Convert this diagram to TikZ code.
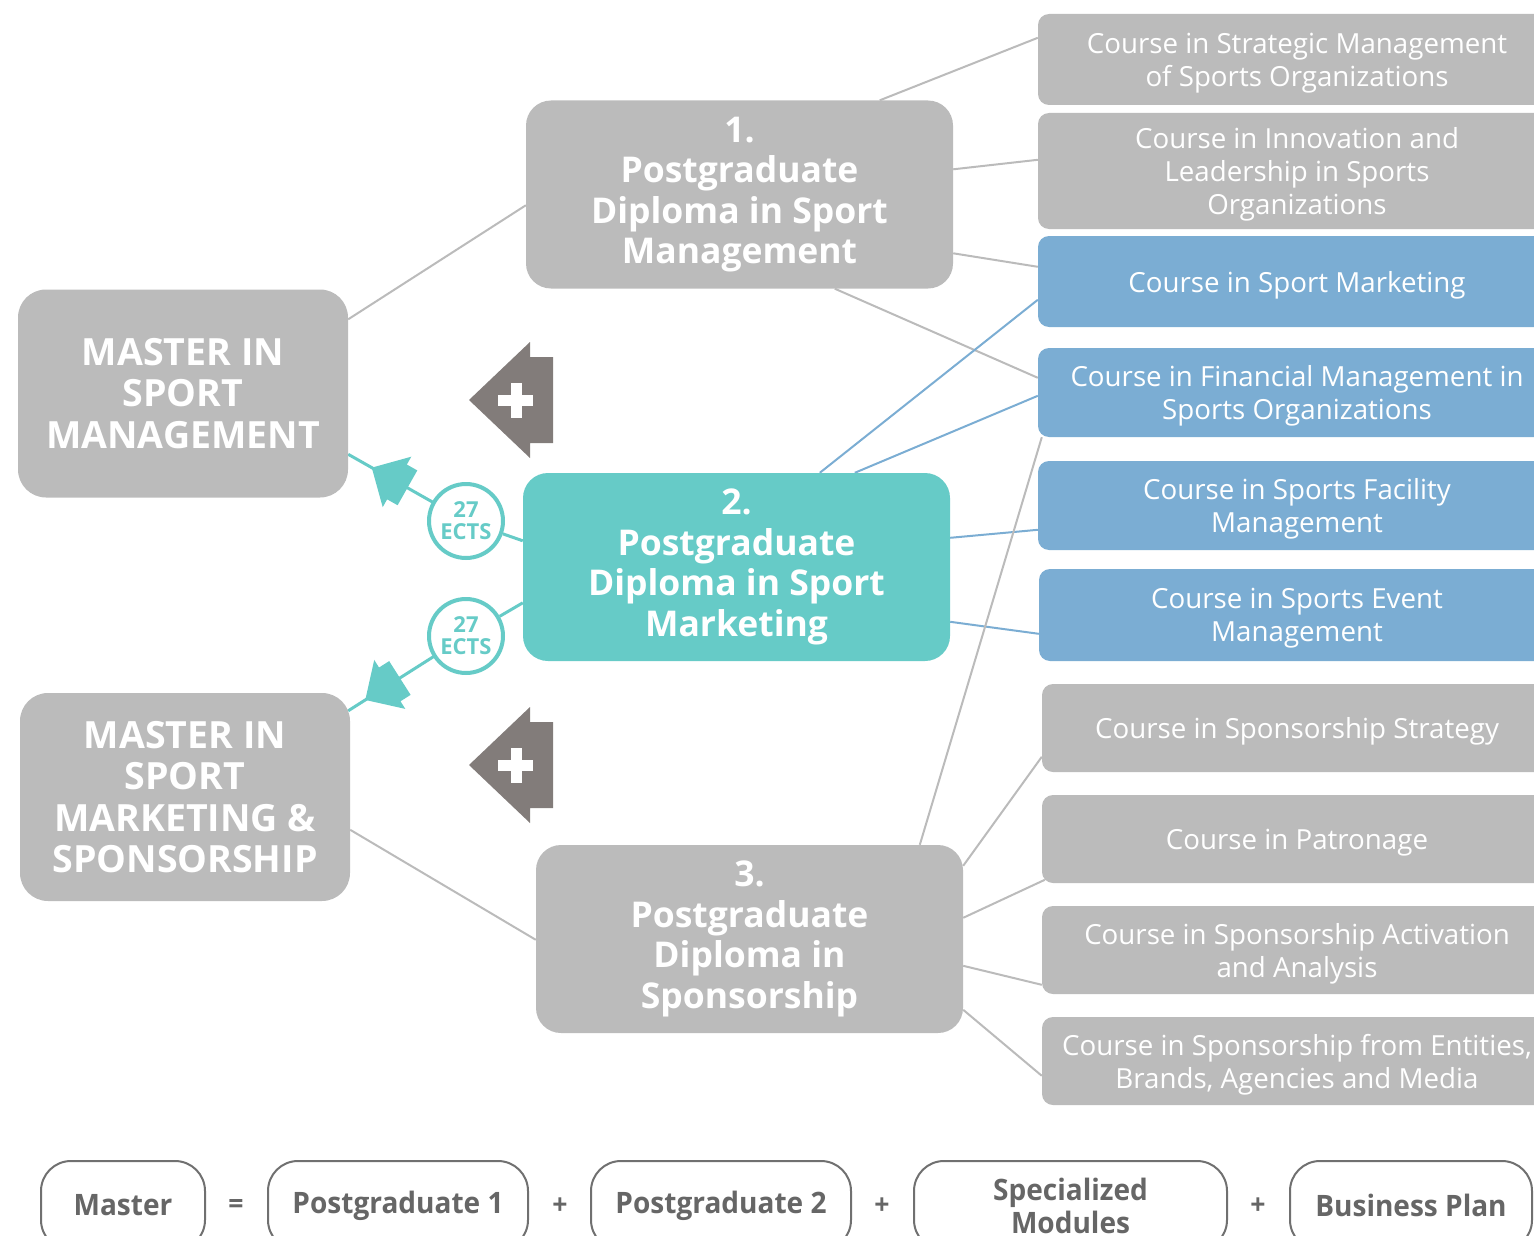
\documentclass[tikz,border=0pt]{standalone}
\usepackage{fontspec}
\setmainfont{Open Sans}
\newfontfamily\condfont[FakeStretch=0.95]{Open Sans}
\usetikzlibrary{calc,backgrounds,decorations.markings}

\definecolor{boxgray}{HTML}{BBBBBB}
\definecolor{courseblue}{HTML}{7BADD3}
\definecolor{pgteal}{HTML}{66CBC7}
\definecolor{plusgray}{HTML}{827C7A}
\definecolor{legendgray}{HTML}{666666}
\definecolor{legendline}{HTML}{707070}

\begin{document}
\begin{tikzpicture}[x=1pt,y=-1pt,
  box/.style={rounded corners=#1, fill=boxgray, text=white, inner sep=0pt, align=center},
  course/.style={box=11pt, minimum width=518pt, text depth=0pt,
    font=\fontsize{27.7}{33}\selectfont},
  bluecourse/.style={course, fill=courseblue},
  diploma/.style={box=25pt, minimum width=427pt, minimum height=188pt,
    font=\bfseries\fontsize{35.5}{40.5}\selectfont},
  master/.style={box=28pt, minimum width=330pt, minimum height=208pt,
    font=\bfseries\fontsize{37.5}{41.5}\selectfont},
  ects/.style={circle, draw=pgteal, line width=4pt, fill=white, minimum size=74pt,
    inner sep=0pt, align=center, text=pgteal, font=\bfseries\fontsize{22}{22}\selectfont},
  link/.style={draw=boxgray, line width=2pt},
  bluelink/.style={draw=courseblue, line width=2pt},
  teallink/.style={draw=pgteal, line width=3pt},
  credit/.style={teallink, postaction={decorate}, decoration={markings,
    mark=at position #1 with {\fill[pgteal] (0,0) -- (-29,29) -- (-29,20) -- (-41,20)
      -- (-41,-20) -- (-29,-20) -- (-29,-29) -- cycle;}}},
  legend/.style={rounded corners=30pt, draw=legendline, line width=2pt, fill=white,
    minimum height=89pt, inner sep=0pt, align=center, text=legendgray,
    font=\condfont\bfseries\fontsize{29.5}{33}\selectfont},
  op/.style={text=legendgray, font=\condfont\bfseries\fontsize{28}{28}\selectfont}
]
\useasboundingbox (0,0) rectangle (1534,1236);
\clip (0,0) rectangle (1534,1236);

% ---- courses (right column)
\node[course, minimum height=91pt]  (r1)  at (1297,59.5) {Course in Strategic Management\\of Sports Organizations};
\node[course, minimum height=116pt] (r2)  at (1297,171)  {Course in Innovation and\\Leadership in Sports\\Organizations};
\node[bluecourse, minimum height=91pt] (r3) at (1297,281.5) {Course in Sport Marketing};
\node[bluecourse, minimum height=89pt] (r4) at (1297,392.5) {Course in Financial Management in\\Sports Organizations};
\node[bluecourse, minimum height=89pt] (r5) at (1297,505.5) {Course in Sports Facility\\Management};
\node[bluecourse, minimum height=92pt, minimum width=516pt] (r6) at (1297,615) {Course in Sports Event\\Management};
\node[course, minimum height=88pt, minimum width=510pt] (r7)  at (1297,728)  {Course in Sponsorship Strategy};
\node[course, minimum height=88pt, minimum width=510pt] (r8)  at (1297,839)  {Course in Patronage};
\node[course, minimum height=88pt, minimum width=510pt] (r9)  at (1297,950)  {Course in Sponsorship Activation\\and Analysis};
\node[course, minimum height=88pt, minimum width=510pt] (r10) at (1297,1061) {Course in Sponsorship from Entities,\\Brands, Agencies and Media};

% ---- postgraduate diplomas
\node[diploma] (pg1) at (739.5,194.5) {1.\\Postgraduate\\Diploma in Sport\\Management};
\node[diploma, fill=pgteal] (pg2) at (736.5,567) {2.\\Postgraduate\\Diploma in Sport\\Marketing};
\node[diploma] (pg3) at (749.5,939) {3.\\Postgraduate\\Diploma in\\Sponsorship};

% ---- masters
\node[master] (m1) at (183,393.5) {MASTER IN\\SPORT\\MANAGEMENT};
\node[master] (m2) at (185,797) {MASTER IN\\SPORT\\MARKETING \&\\SPONSORSHIP};

% ---- credit circles
\node[ects] (c1) at (466,521) {27\\ECTS};
\node[ects] (c2) at (466,636) {27\\ECTS};

% ---- connectors, behind the boxes
\begin{pgfonlayer}{background}
  \path[link] ($(m1.north east)+(0,30)$) -- ($(pg1.north west)+(0,105)$);
  \path[link] ($(m2.north east)+(0,137)$) -- ($(pg3.north west)+(0,95)$);

  \path[link] ($(pg1.north west)+(354,0)$) -- ($(r1.north west)+(0,24)$);
  \path[link] ($(pg1.north east)+(0,69)$) -- ($(r2.north west)+(0,47)$);
  \path[link] ($(pg1.north east)+(0,153)$) -- ($(r3.north west)+(0,31)$);
  \path[link] ($(pg1.south west)+(309,0)$) -- ($(r4.north west)+(0,30)$);

  \path[bluelink] ($(pg2.north west)+(297,0)$) -- ($(r3.north west)+(0,64)$);
  \path[bluelink] ($(pg2.north west)+(332,0)$) -- ($(r4.north west)+(0,48)$);
  \path[bluelink] ($(pg2.north east)+(0,65)$) -- ($(r5.north west)+(0,69)$);
  \path[bluelink] ($(pg2.north east)+(0,149)$) -- ($(r6.north west)+(0,65)$);

  \path[link] ($(pg3.north west)+(384,0)$) -- ($(r4.south west)+(4,0)$);
  \path[link] ($(pg3.north east)+(0,21)$) -- ($(r7.north west)+(0,73)$);
  \path[link] ($(pg3.north east)+(0,73)$) -- ($(r8.north west)+(3,85)$);
  \path[link] ($(pg3.north east)+(0,121)$) -- ($(r9.north west)+(0,79)$);
  \path[link] ($(pg3.north east)+(0,165)$) -- ($(r10.north west)+(0,59)$);

  \path[teallink] ($(pg2.north west)+(0,68)$) -- (c1);
  \path[credit=0.80] (c1.center) -- ($(m1.north east)+(0,165)$);
  \path[teallink] ($(pg2.north west)+(0,130)$) -- (c2);
  \path[credit=0.855] (c2.center) -- ($(m2.north east)+(-2,18)$);
\end{pgfonlayer}

% ---- "plus" arrows
\foreach \yc in {400,765}{
  \fill[plusgray] (469,\yc) -- (530,\yc-58) -- (530,\yc-43) -- (553,\yc-43)
    -- (553,\yc+43) -- (530,\yc+43) -- (530,\yc+58) -- cycle;
  \fill[white] (498,\yc-5.5) rectangle (533,\yc+5.5);
  \fill[white] (510.5,\yc-17.5) rectangle (521.5,\yc+17.5);
}

% ---- formula along the bottom
\node[legend, minimum width=164pt] (lm)  at (123,1205.5)  {Master};
\node[op] (eq) at (236,1206) {=};
\node[legend, minimum width=260pt] (lp1) at (398,1205.5)  {Postgraduate 1};
\node[op] (plus1) at (560,1206) {+};
\node[legend, minimum width=260pt] (lp2) at (721,1205.5)  {Postgraduate 2};
\node[op] (plus2) at (882,1206) {+};
\node[legend, minimum width=313pt] (lsm) at (1070.5,1205.5) {Specialized\\Modules};
\node[op] (plus3) at (1258,1206) {+};
\node[legend, minimum width=242pt] (lbp) at (1411,1205.5) {Business Plan};
\end{tikzpicture}
\end{document}
